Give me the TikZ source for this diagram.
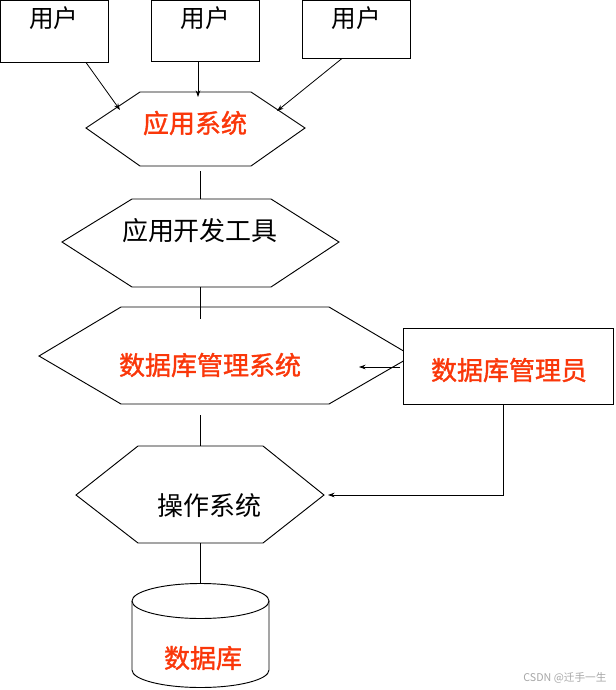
\documentclass[tikz,border=0pt]{standalone}
\usepackage{fontspec}
\newfontfamily\cjk{Noto Sans CJK SC}
\newfontfamily\cjkheavy[FakeBold=1.3]{Noto Sans CJK SC}
\usepackage{xcolor}
\usetikzlibrary{arrows.meta, positioning, calc}
\definecolor{hired}{RGB}{250,55,10}

\begin{document}
\begin{tikzpicture}[
    x=0.75pt, y=-0.75pt,
    line/.style={line width=0.7pt},
    arrow/.style={-{Stealth[length=5pt, width=3.5pt]}, line width=0.6pt},
    userbox/.style={rectangle, draw, line width=0.7pt, minimum width=81pt, inner sep=0pt},
    txt/.style={font=\cjk\fontsize{19.5}{20}\selectfont, inner sep=0pt},
    redtxt/.style={txt, text=hired, font=\cjkheavy\fontsize{19.5}{20}\selectfont},
    adminbox/.style={rectangle, draw, line width=0.7pt, fill=white, minimum width=157.5pt, minimum height=57pt, inner sep=0pt}
]
    \useasboundingbox (0,0) rectangle (615,690);

    % users
    \node[userbox, minimum height=46.5pt] (u1) at (54,31) {};
    \node[userbox, minimum height=45.75pt] (u2) at (205,30.5) {};
    \node[userbox, minimum height=43.5pt] (u3) at (356,29) {};
    \node[txt, font=\cjk\fontsize{18.5}{19}\selectfont] (u1t) at (54,18) {用户};
    \node[txt, font=\cjk\fontsize{18.5}{19}\selectfont] (u2t) at (205,18) {用户};
    \node[txt, font=\cjk\fontsize{18.5}{19}\selectfont] (u3t) at (356,18) {用户};

    % hexagons
    \draw[line] (86,128) -- (140,92) -- (251,92) -- (305,128) -- (251,166) -- (140,166) -- cycle;
    \node[redtxt] (app) at (195,123) {应用系统};
    \draw[line] (62,242) -- (132,199) -- (271,199) -- (339,242) -- (271,287) -- (132,287) -- cycle;
    \node[txt] (tool) at (200,231) {应用开发工具};
    \draw[line] (39,356) -- (121,307) -- (329,307) -- (412,356) -- (329,404) -- (121,404) -- cycle;
    \node[redtxt] (dbms) at (210,365) {数据库管理系统};
    \draw[line] (76,495) -- (138,446) -- (263,446) -- (324,495) -- (263,543) -- (138,543) -- cycle;
    \node[txt] (os) at (209,506) {操作系统};

    % database
    \draw[line] (132,601) -- (132,670) arc[start angle=180, end angle=0, x radius=68.5, y radius=17.5] -- (269,601);
    \draw[line] (200.5,601) ellipse [x radius=68.5, y radius=17.5];
    \node[redtxt] (db) at (203,658) {数据库};

    % dba
    \node[adminbox] (dba) at (508,366) {};
    \node[redtxt] (dbat) at (509,370) {数据库管理员};

    \coordinate (appL) at (120,110);
    \coordinate (appT) at (198,97);
    \coordinate (appR) at (277,111);
    \coordinate (appS) at (200,171);
    \coordinate (toolN) at (200,199);
    \coordinate (toolS) at (200,287);
    \coordinate (dbmsN) at (200,319);
    \coordinate (dbmsS) at (200,415);
    \coordinate (dbmsE) at (359,367);
    \coordinate (osN) at (200,446);
    \coordinate (osS) at (200,543);
    \coordinate (osE) at (328,495);
    \coordinate (dbN) at (200,583);
    \coordinate (bend) at (503,495);

    \draw[arrow] ($(u1.south)+(32,0)$) -- (appL);
    \draw[arrow] ($(u2.south)+(-7,0)$) -- (appT);
    \draw[arrow] ($(u3.south)+(-14,0)$) -- (appR);
    \draw[line] (appS) -- (toolN);
    \draw[line] (toolS) -- (dbmsN);
    \draw[line] (dbmsS) -- (osN);
    \draw[line] (osS) -- (dbN);
    \draw[arrow] (dba.west |- dbmsE) ++(-3,0) -- (dbmsE);
    \draw[arrow] (dba.south -| bend) -- (bend) -- (osE);

    \node[font=\cjk\fontsize{8}{9}\selectfont, text=gray!70, inner sep=0pt] (mark) at (565,678) {CSDN @迁手一生};
\end{tikzpicture}
\end{document}
